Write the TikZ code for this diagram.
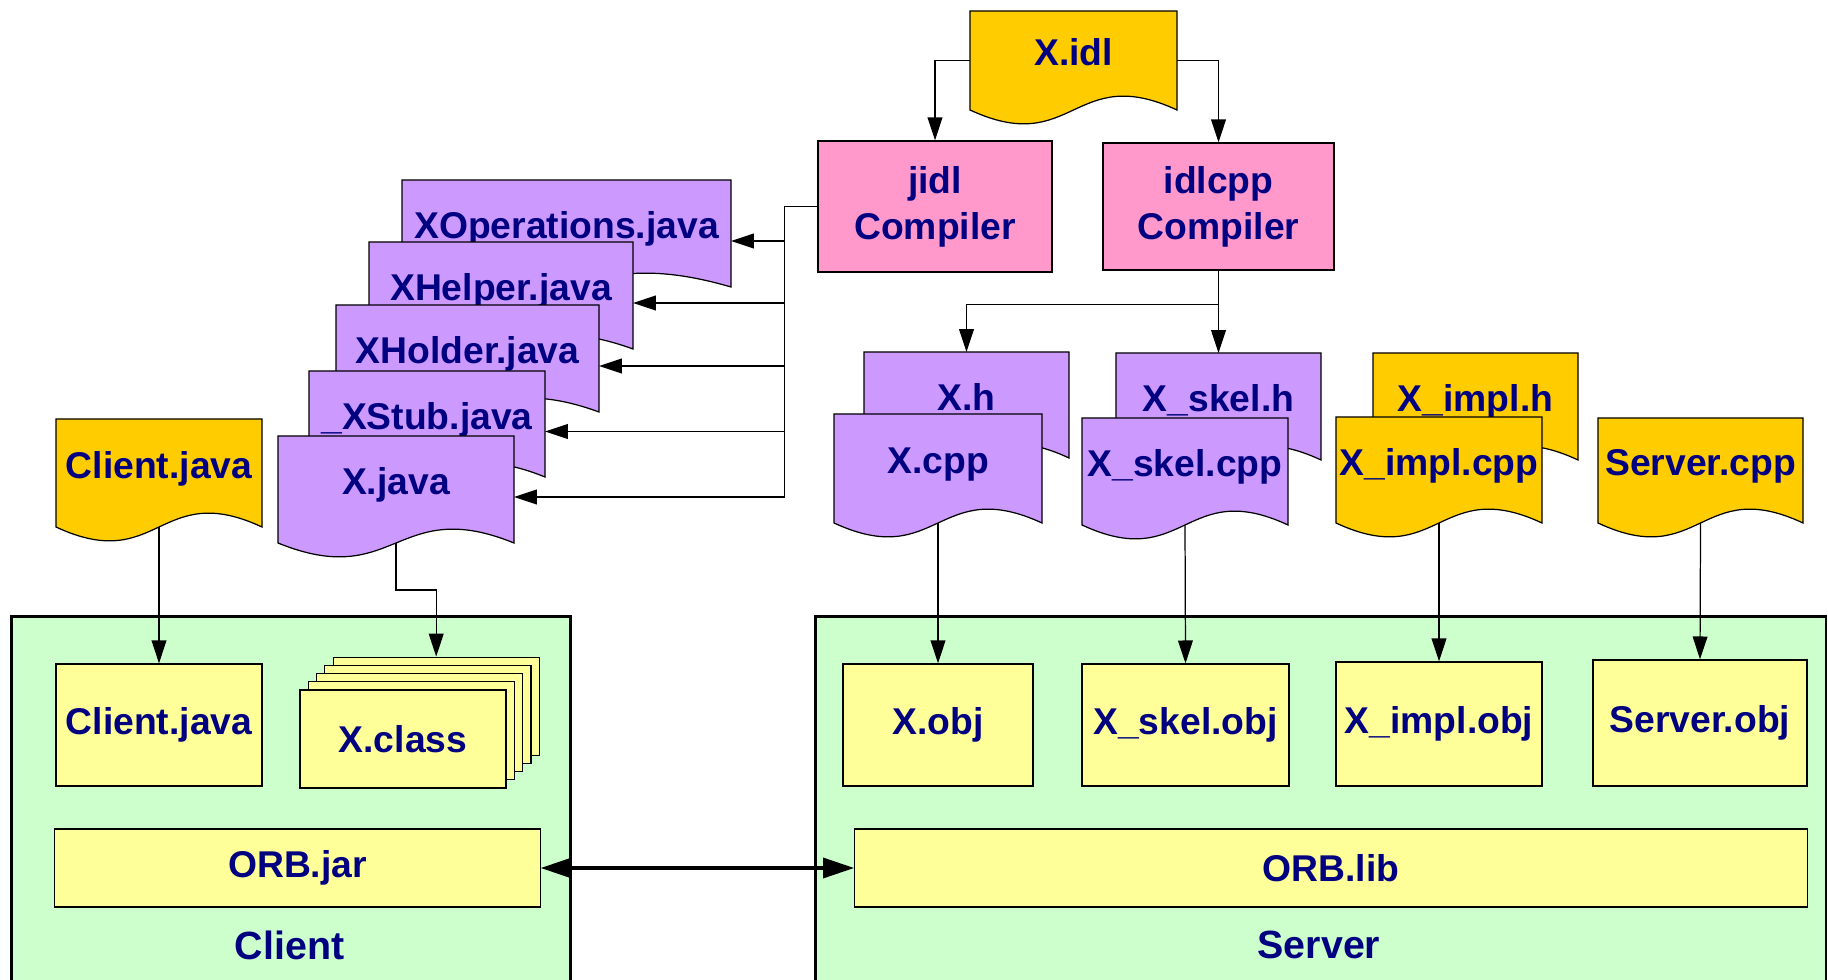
\documentclass[tikz,border=0pt]{standalone}
\usepackage{fontspec}
\setmainfont{Liberation Sans}
\usetikzlibrary{arrows.meta}

\definecolor{docorange}{HTML}{FFCC00}
\definecolor{docpurple}{HTML}{CC99FF}
\definecolor{compink}{HTML}{FF99CC}
\definecolor{boxyellow}{HTML}{FFFF99}
\definecolor{groupgreen}{HTML}{CCFFCC}
\definecolor{textnavy}{HTML}{000080}

\tikzset{
  docline/.style={draw=black, line width=0.35pt},
  doctext/.style={inner sep=0pt, outer sep=0pt, text height=3.1pt, text depth=0pt},
  compiler/.style={draw, fill=compink, align=center, inner sep=0pt},
  objbox/.style={draw, fill=boxyellow, inner sep=0pt},
  group/.style={draw, line width=0.8pt, fill=groupgreen, inner sep=0pt, anchor=north west},
  grouplabel/.style={font=\bfseries\fontsize{11.2}{13}\selectfont}
}

% file with a wavy bottom: name, left, top, right, bottom, fill, text
\newcommand\docfile[7]{%
  \filldraw[docline, fill=#6] (#2,#3) -- (#4,#3) -- (#4,#5)
    .. controls ({(#2+#4)/2},{#5-48}) and ({(#2+#4)/2},{#5+48}) .. (#2,#5) -- cycle;
  \node[doctext, minimum width={(#4-#2)*0.01cm}, minimum height={(#5-#3)*0.01cm}]
    (#1) at ({(#2+#4)/2},{(#3+#5)/2}) {#7};
}

\begin{document}
\begin{tikzpicture}[x=0.01cm, y=-0.01cm, line width=0.35pt, text=textnavy,
    font=\bfseries\fontsize{10.6}{13.1}\selectfont,
    >={Triangle[length=6.5pt,width=4.2pt]}]
  \useasboundingbox (0,0) rectangle (1828,980);
  \clip (0,0) rectangle (1828,980);

  % client and server
  \node[group, minimum width=5.59cm, minimum height=3.9cm] (clientgrp) at (10,615) {};
  \node[group, minimum width=10.1cm, minimum height=3.9cm] (servergrp) at (814,615) {};
  \node[grouplabel] (clientlbl) at (289.5,945) {Client};
  \node[grouplabel] (serverlbl) at (1319,945) {Server};

  % idl and compilers
  \docfile{xidl}{970}{11}{1177}{110}{docorange}{X.idl}
  \node[compiler, minimum width=2.34cm, minimum height=1.31cm] (jidl) at (935,206.5) {jidl\\Compiler};
  \node[compiler, minimum width=2.31cm, minimum height=1.27cm] (idlcpp) at (1218.5,206.5) {idlcpp\\Compiler};

  % java side
  \docfile{xops}{402}{180}{731}{287}{docpurple}{XOperations.java}
  \docfile{xhelper}{369}{242}{633}{349}{docpurple}{XHelper.java}
  \docfile{xholder}{336}{305}{599}{412}{docpurple}{XHolder.java}
  \docfile{xstub}{309}{371}{545}{477}{docpurple}{\_XStub.java}
  \docfile{xjava}{278}{436}{514}{543}{docpurple}{X.java}
  \docfile{clientdoc}{56}{419}{262}{527}{docorange}{Client.java}

  % c++ side
  \docfile{xh}{864}{352}{1069}{458}{docpurple}{X.h}
  \docfile{xcpp}{834}{414}{1042}{523}{docpurple}{X.cpp}
  \docfile{xskelh}{1116}{353}{1321}{460}{docpurple}{X\_skel.h}
  \docfile{xskelcpp}{1082}{418}{1288}{525}{docpurple}{X\_skel.cpp}
  \docfile{ximplh}{1373}{353}{1578}{460}{docorange}{X\_impl.h}
  \docfile{ximplcpp}{1336}{417}{1542}{523}{docorange}{X\_impl.cpp}
  \docfile{servercpp}{1598}{418}{1803}{523}{docorange}{Server.cpp}

  % built parts
  \node[objbox, minimum width=2.06cm, minimum height=1.22cm] (clientjava) at (159,725) {Client.java};
  \foreach \k in {4,3,2,1}
    \node[objbox, minimum width=2.06cm, minimum height=0.98cm] (xclass\k) at ({403+8.3*\k},{739-8.2*\k}) {};
  \node[objbox, minimum width=2.06cm, minimum height=0.98cm] (xclass) at (403,739) {X.class};
  \node[objbox, minimum width=1.90cm, minimum height=1.22cm] (xobj) at (938,725) {X.obj};
  \node[objbox, minimum width=2.07cm, minimum height=1.22cm] (xskelobj) at (1185.5,725) {X\_skel.obj};
  \node[objbox, minimum width=2.06cm, minimum height=1.24cm] (ximplobj) at (1439,724) {X\_impl.obj};
  \node[objbox, minimum width=2.14cm, minimum height=1.26cm] (serverobj) at (1700,723) {Server.obj};
  \node[objbox, minimum width=4.85cm, minimum height=0.78cm] (orbjar) at (297.5,868) {ORB.jar};
  \node[objbox, minimum width=9.52cm, minimum height=0.78cm] (orblib) at (1331,868) {ORB.lib};

  % arrows
  \draw[->] (xidl.west) -| (jidl.north);
  \draw[->] (xidl.east) -| (idlcpp.north);
  \coordinate (jbus) at ([xshift=-0.33cm]jidl.west);
  \draw (jidl.west) -- (jbus);
  \foreach \f in {xops,xhelper,xholder,xstub,xjava}
    \draw[->] (jbus) |- ([yshift=-0.075cm]\f.east);
  \coordinate (hsplit) at ([yshift=-0.34cm]idlcpp.south);
  \draw[->] (idlcpp.south) -- (xskelh.north);
  \draw[->] (hsplit) -| (xh.north);
  \draw[->] (clientdoc.south) -- (clientjava.north);
  \draw[->] (xjava.south) -- ++(0,47) -| (xclass4.north);
  \foreach \a/\b in {xcpp/xobj,xskelcpp/xskelobj,ximplcpp/ximplobj,servercpp/serverobj}
    \draw[->] (\a.south) -- (\b.north);
  \draw[{Triangle[length=8.8pt,width=5.7pt]}-{Triangle[length=8.8pt,width=5.7pt]}, line width=0.9pt]
    (orbjar.east) -- (orblib.west);
\end{tikzpicture}
\end{document}
